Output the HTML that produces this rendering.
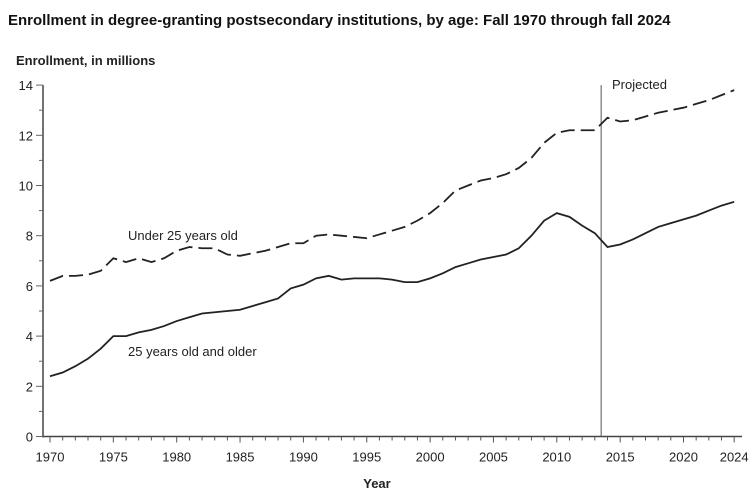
<!DOCTYPE html>
<html><head><meta charset="utf-8"><style>
body{margin:0;background:#fff;font-family:"Liberation Sans",Arial,sans-serif}
svg text{font-family:"Liberation Sans",Arial,sans-serif}
</style></head><body>
<svg width="756" height="495">
<text x="8" y="25" font-size="15" font-weight="bold" fill="#111">Enrollment in degree-granting postsecondary institutions, by age: Fall 1970 through fall 2024</text>
<text x="16" y="65" font-size="13" font-weight="bold" fill="#222">Enrollment, in millions</text>
<text x="377" y="488" font-size="13" font-weight="bold" text-anchor="middle" fill="#222">Year</text>
<g id="axes"></g><g id="marks"></g>
<text x="128" y="240" font-size="13" fill="#222">Under 25 years old</text>
<text x="128" y="356" font-size="13" fill="#222">25 years old and older</text>
<text x="612" y="89" font-size="13" fill="#222">Projected</text>
</svg>
<script>
const years=[];for(let y=1970;y<=2024;y++)years.push(y);
const under25=[6.2,6.4,6.4,6.45,6.6,7.1,6.95,7.1,6.95,7.1,7.4,7.55,7.5,7.5,7.25,7.2,7.3,7.4,7.55,7.7,7.7,8.0,8.05,8.0,7.95,7.9,8.05,8.2,8.35,8.6,8.9,9.3,9.8,10.0,10.2,10.3,10.45,10.7,11.1,11.7,12.1,12.2,12.2,12.2,12.7,12.55,12.6,12.75,12.9,13.0,13.1,13.25,13.4,13.6,13.8];
const over25=[2.4,2.55,2.8,3.1,3.5,4.0,4.0,4.15,4.25,4.4,4.6,4.75,4.9,4.95,5.0,5.05,5.2,5.35,5.5,5.9,6.05,6.3,6.4,6.25,6.3,6.3,6.3,6.25,6.15,6.15,6.3,6.5,6.75,6.9,7.05,7.15,7.25,7.5,8.0,8.6,8.9,8.75,8.4,8.1,7.55,7.65,7.85,8.1,8.35,8.5,8.65,8.8,9.0,9.2,9.35];
const yTicks=[0,2,4,6,8,10,12,14];
const xTicks=[1970,1975,1980,1985,1990,1995,2000,2005,2010,2015,2020,2024];
const projectedStart=2013.5;
const NS="http://www.w3.org/2000/svg";
const X=y=>50+(y-1970)*12.67, Y=v=>436.5-v*25.1;
function mk(t,a,p){const e=document.createElementNS(NS,t);for(const k in a)e.setAttribute(k,a[k]);p.appendChild(e);return e;}
const ax=document.getElementById('axes'),mg=document.getElementById('marks');
let e=mk('line',{x1:43,x2:43,y1:Y(14),y2:Y(0)+1,stroke:'#444','stroke-width':1.5},ax);

e=mk('line',{x1:43,x2:742,y1:Y(0),y2:Y(0),stroke:'#444','stroke-width':1.5},ax);

for(let v=0;v<=14;v++){mk('line',{x1:v%2?39:36,x2:43,y1:Y(v),y2:Y(v),stroke:'#666'},ax);}
yTicks.forEach(v=>{const t=mk('text',{x:33,y:Y(v)+5,'font-size':13,'text-anchor':'end',fill:'#222'},ax);t.textContent=v;
});
years.forEach(y=>{mk('line',{x1:X(y),x2:X(y),y1:Y(0),y2:Y(0)+(y%5==0||y==2024?6:4),stroke:'#555'},ax);});
xTicks.forEach(y=>{const t=mk('text',{x:X(y),y:Y(0)+25,'font-size':13,'text-anchor':'middle',fill:'#222'},ax);t.textContent=y;
});
e=mk('line',{x1:X(projectedStart),x2:X(projectedStart),y1:Y(14),y2:Y(0),stroke:'#555','stroke-width':1},mg);

const pts=a=>a.map((v,i)=>X(years[i])+','+Y(v)).join(' ');
e=mk('polyline',{points:pts(under25),fill:'none',stroke:'#222','stroke-width':1.8,'stroke-dasharray':'14,6'},mg);

e=mk('polyline',{points:pts(over25),fill:'none',stroke:'#222','stroke-width':1.8},mg);

</script>
</body></html>
